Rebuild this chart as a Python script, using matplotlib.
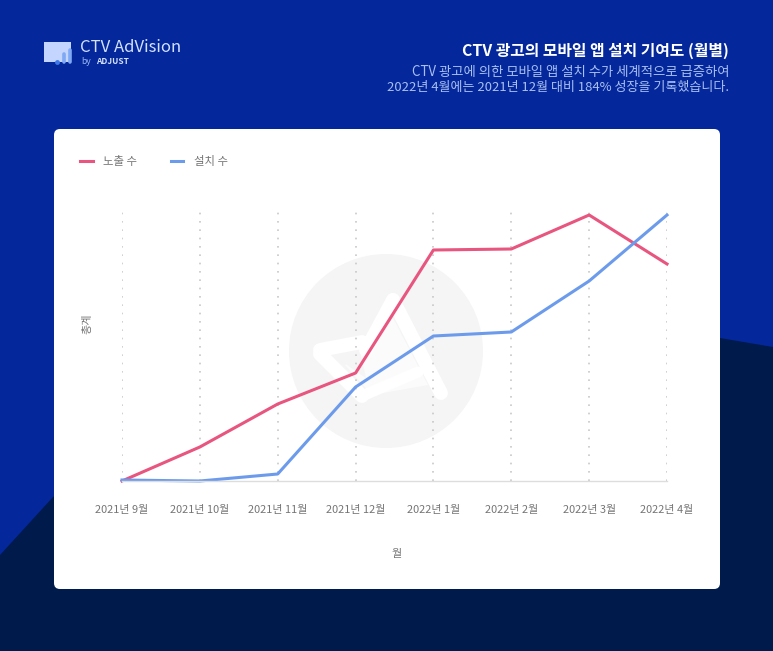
import matplotlib
matplotlib.use('Agg')
import matplotlib.pyplot as plt
from matplotlib.patches import Circle, FancyBboxPatch, PathPatch, Polygon, Rectangle
from matplotlib.path import Path

plt.rcParams['font.family'] = ['Noto Sans CJK KR', 'DejaVu Sans']

months = ['2021년 9월', '2021년 10월', '2021년 11월', '2021년 12월',
          '2022년 1월', '2022년 2월', '2022년 3월', '2022년 4월']
impressions = [0, 34, 77, 108, 231, 232, 266, 217]
installs = [1, 0, 7, 94, 145, 149, 200, 266]

W, H = 773, 651
bg_blue = '#04289b'
navy = '#001a4b'
red = '#e8557f'
blue = '#6c9bec'
grey_text = '#757575'

fig = plt.figure(figsize=(W / 100, H / 100), dpi=100)

# background layer works in pixel coordinates of the image
bg = fig.add_axes([0, 0, 1, 1])
bg.set_xlim(0, W)
bg.set_ylim(H, 0)
bg.axis('off')
bg.add_patch(Rectangle((0, 0), W, H, color=bg_blue, lw=0))

# the edge is hidden behind the card between x=54 and x=720
wave = Path([(0, 555), (53, 497), (300, 330), (720, 338), (773, 347), (773, 651), (0, 651), (0, 555)],
            [Path.MOVETO, Path.LINETO, Path.LINETO, Path.LINETO, Path.LINETO, Path.LINETO, Path.LINETO,
             Path.CLOSEPOLY])
bg.add_patch(PathPatch(wave, facecolor=navy, lw=0))

bg.add_patch(FancyBboxPatch((60, 135), 654, 448, boxstyle='round,pad=6,rounding_size=6',
                            facecolor='white', edgecolor='none'))

# logo
bg.add_patch(Rectangle((44, 42), 27, 20, facecolor='#c4d6ff', lw=0))
bg.plot([63.5, 63.5], [54, 62], color='#7fa8f5', lw=2.6, solid_capstyle='round')
bg.plot([69.5, 69.5], [50, 62], color='#7fa8f5', lw=2.6, solid_capstyle='round')
bg.plot([57], [62], marker='o', ms=3.5, color='#3f78e8', mew=0)
bg.text(80.5, 48, 'CTV AdVision', color='#d3e1ff', fontsize=12, va='center', ha='left', weight='medium')
bg.text(81, 61, 'by', color='#9db8f5', fontsize=6.2, va='center', ha='left')
bg.text(96, 61, 'ADJUST', color='#d3e1ff', fontsize=6, va='center', ha='left', weight='bold')

# header text
bg.text(729, 51, 'CTV 광고의 모바일 앱 설치 기여도 (월별)', color='white', fontsize=11.4,
        weight='bold', ha='right', va='center')
bg.text(729, 72, 'CTV 광고에 의한 모바일 앱 설치 수가 세계적으로 급증하여', color='#a9bff2',
        fontsize=9.6, ha='right', va='center')
bg.text(729, 88, '2022년 4월에는 2021년 12월 대비 184% 성장을 기록했습니다.', color='#a9bff2',
        fontsize=9.4, ha='right', va='center')

# watermark
bg.add_patch(Circle((386, 351), 97, facecolor='#f5f5f5', edgecolor='none'))
bg.add_patch(Polygon([[393, 318], [428, 385], [372, 395], [345, 365], [368, 345]],
                     facecolor='#fbfbfb', edgecolor='none'))
bg.plot([393, 441], [300, 393], color='white', lw=10, solid_capstyle='round')
bg.plot([393, 366], [300, 350], color='white', lw=10, solid_capstyle='round')
bg.plot([320, 362], [350, 342], color='white', lw=10, solid_capstyle='round')
bg.plot([320, 362], [354, 396], color='white', lw=10, solid_capstyle='round')
bg.plot([362, 418], [396, 372], color='white', lw=8, solid_capstyle='round')
bg.add_patch(Polygon([[334, 356], [360, 352], [366, 378]], facecolor='#f5f5f5', edgecolor='none'))

# chart axes, lined up with the plot area in the image
left, right, top, bottom = 122, 667, 208, 481
ax = fig.add_axes([left / W, 1 - bottom / H, (right - left) / W, (bottom - top) / H])
ax.patch.set_alpha(0)
xs = list(range(len(months)))
ax.set_xlim(0, len(months) - 1)
ax.set_ylim(0, 273)

ax.set_xticks(xs)
ax.set_xticklabels(months, fontsize=7.9, color=grey_text)
ax.tick_params(axis='x', length=0, pad=17)
ax.set_yticks([])
for s in ['top', 'left', 'right']:
    ax.spines[s].set_visible(False)
ax.spines['bottom'].set_color('#dddddd')
ax.spines['bottom'].set_linewidth(1)
ax.grid(axis='x', color='#c8c8c8', linestyle=(0, (1, 4)), linewidth=1.2)
ax.set_axisbelow(True)

ax.plot(xs, impressions, color=red, lw=2.2, label='노출 수', clip_on=False, solid_joinstyle='round')
ax.plot(xs, installs, color=blue, lw=2.2, label='설치 수', clip_on=False, solid_joinstyle='round')

ax.set_xlabel('월', fontsize=8, color=grey_text)
ax.xaxis.set_label_coords((397 - left) / (right - left), (481 - 554) / (bottom - top))
ax.xaxis.label.set_va('center')
ax.set_ylabel('총계', fontsize=8, color=grey_text)
ax.yaxis.set_label_coords((87 - left) / (right - left), (481 - 324) / (bottom - top))
ax.yaxis.label.set_va('center')

ax.legend(loc='center left', bbox_to_anchor=((80 - left) / (right - left), (481 - 161) / (bottom - top)),
          ncols=2, frameon=False, fontsize=8.2, labelcolor=grey_text, borderaxespad=0, borderpad=0,
          handlelength=1.1, handletextpad=0.95, columnspacing=2.95)

fig.savefig('out.png', dpi=100)
